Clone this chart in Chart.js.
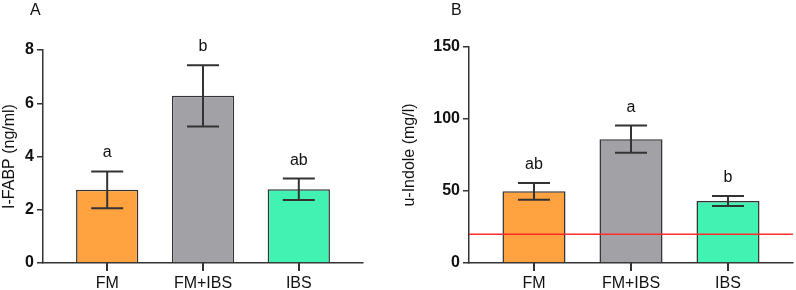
<!DOCTYPE html>
<html>
<head>
<meta charset="utf-8">
<script src="https://cdn.jsdelivr.net/npm/chart.js@4"></script>
<style>
  body { margin: 0; background: #fff; }
  #wrap { position: relative; width: 796px; height: 290px; overflow: hidden; }
  .panel { position: absolute; top: 0; }
  .tag { position: absolute; top: 2px; font: 16px 'Liberation Sans', Arial, sans-serif; line-height: 16px; color: #111; }
</style>
</head>
<body>
<div id="wrap">
  <div class="panel" style="left:0"><canvas id="fabpChart" width="400" height="290"></canvas></div>
  <div class="panel" style="left:400px"><canvas id="indoleChart" width="396" height="290"></canvas></div>
  <div class="tag" style="left:30px">A</div>
  <div class="tag" style="left:451px">B</div>
</div>
<script>
const groups = ['FM', 'FM+IBS', 'IBS'];
const barColors = ['#FFA23F', '#A2A1A6', '#42F2B2'];

// panel A
const fabpMeans = [2.75, 6.28, 2.77];
const fabpErrors = [0.69, 1.15, 0.40];
const fabpLetters = ['a', 'b', 'ab'];
const fabpTicks = [0, 2, 4, 6, 8];

// panel B
const indoleMeans = [49.8, 86, 43];
const indoleErrors = [5.8, 9.4, 3.5];
const indoleLetters = ['ab', 'a', 'b'];
const indoleTicks = [0, 50, 100, 150];
const indoleCutoff = 20;

Chart.defaults.font.family = "'Liberation Sans', Arial, sans-serif";
Chart.defaults.font.size = 16;
Chart.defaults.color = '#111';

const ink = '#333';

function marksPlugin(means, errors, letters, cutoff) {
  return {
    id: 'marks',
    afterDraw(chart) {
      const { ctx, chartArea } = chart;
      const xs = chart.scales.x;
      const ys = chart.scales.y;
      ctx.save();
      if (cutoff !== undefined) {
        const yc = ys.getPixelForValue(cutoff);
        ctx.strokeStyle = '#FF2A2A';
        ctx.lineWidth = 1.5;
        ctx.beginPath();
        ctx.moveTo(chartArea.left, yc);
        ctx.lineTo(chartArea.right, yc);
        ctx.stroke();
      }
      ctx.strokeStyle = ink;
      ctx.fillStyle = '#111';
      ctx.font = "16px 'Liberation Sans', Arial, sans-serif";
      ctx.textAlign = 'center';
      ctx.textBaseline = 'alphabetic';
      means.forEach((m, i) => {
        const x = xs.getPixelForValue(i);
        const top = ys.getPixelForValue(m + errors[i]);
        const bot = ys.getPixelForValue(m - errors[i]);
        ctx.lineWidth = 2;
        ctx.beginPath();
        ctx.moveTo(x, top); ctx.lineTo(x, bot);
        ctx.moveTo(x - 16, top); ctx.lineTo(x + 16, top);
        ctx.moveTo(x - 16, bot); ctx.lineTo(x + 16, bot);
        ctx.stroke();
        ctx.fillText(letters[i], x, top - 14);
        // category tick below the axis
        ctx.lineWidth = 2;
        ctx.beginPath();
        ctx.moveTo(Math.round(x), chartArea.bottom);
        ctx.lineTo(Math.round(x), chartArea.bottom + 8);
        ctx.stroke();
      });
      ctx.restore();
    }
  };
}

function makeChart(id, opts) {
  const config = {
    type: 'bar',
    data: {
      datasets: [{
        data: opts.means.map((v, i) => ({ x: i, y: v })),
        backgroundColor: barColors,
        borderColor: ink,
        borderWidth: 1.5,
        barPercentage: 0.65,
        categoryPercentage: 1,
      }]
    },
    options: {
      responsive: false,
      animation: false,
      layout: { padding: opts.padding },
      plugins: { legend: { display: false }, tooltip: { enabled: false } },
      scales: {
        x: {
          type: 'linear',
          offset: false,
          min: -0.67,
          max: 2.67,
          afterBuildTicks: (scale) => { scale.ticks = groups.map((g, i) => ({ value: i })); },
          afterFit: (scale) => { scale.height = 27; },
          ticks: { callback: (v) => groups[v], padding: 3, color: '#111', maxRotation: 0 },
          grid: { offset: false, drawOnChartArea: false, tickColor: ink, tickWidth: 1.5, lineWidth: 1.5, tickLength: 8 },
          border: { color: ink, width: 1.5 },
        },
        y: {
          min: 0,
          max: opts.ticks[opts.ticks.length - 1],
          afterBuildTicks: (scale) => { scale.ticks = opts.ticks.map(v => ({ value: v })); },
          afterFit: (scale) => { scale.width = opts.axisWidth; },
          ticks: { font: { weight: 'bold' }, padding: 3, color: '#111' },
          grid: { drawOnChartArea: false, color: ink, lineWidth: 1.5, tickLength: 6 },
          border: { color: ink, width: 1.5 },
          title: { display: true, text: opts.title, color: '#111', padding: 0 },
        }
      }
    },
    plugins: [marksPlugin(opts.means, opts.errors, opts.letters, opts.cutoff)]
  };
  return new Chart(document.getElementById(id), config);
}

makeChart('fabpChart', {
  means: fabpMeans, errors: fabpErrors, letters: fabpLetters, ticks: fabpTicks,
  title: 'I-FABP (ng/ml)', axisWidth: 43,
  padding: { top: 50, right: 37, left: 0, bottom: 0 },
});

makeChart('indoleChart', {
  means: indoleMeans, errors: indoleErrors, letters: indoleLetters, ticks: indoleTicks,
  title: 'u-Indole (mg/l)', axisWidth: 69, cutoff: indoleCutoff,
  padding: { top: 47, right: 3, left: 0, bottom: 0 },
});
</script>
</body>
</html>
